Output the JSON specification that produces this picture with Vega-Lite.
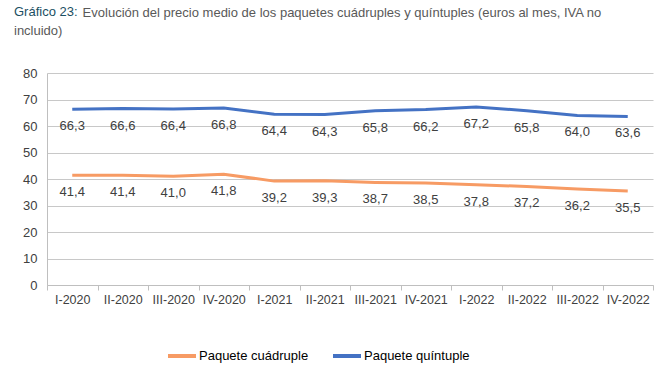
{
  "$schema": "https://vega.github.io/schema/vega-lite/v6.json",
  "width": 606,
  "height": 212,
  "autosize": {"type": "none"},
  "padding": {"left": 47, "top": 73, "right": 12, "bottom": 99},
  "background": "white",
  "title": {
    "text": "Gráfico 23:",
    "subtitle": ["\u200b\u00a0\u00a0\u00a0\u00a0\u00a0\u00a0\u00a0\u00a0\u00a0\u00a0\u00a0\u00a0\u00a0\u00a0\u00a0\u00a0\u00a0\u00a0\u00a0Evolución del precio medio de los paquetes cuádruples y quíntuples (euros al mes, IVA no", "incluido)"],
    "anchor": "start",
    "frame": "group",
    "dx": -33,
    "offset": 29,
    "font": "Liberation Sans",
    "fontSize": 13,
    "fontWeight": "normal",
    "color": "#1B4F63",
    "lineHeight": 18,
    "subtitleFont": "Liberation Sans",
    "subtitleFontSize": 13,
    "subtitleColor": "#595959",
    "subtitleLineHeight": 18,
    "subtitlePadding": -12
  },
  "config": {
    "locale": {"number": {"decimal": ",", "thousands": ".", "grouping": [3], "currency": ["", " €"]}},
    "view": {"stroke": null},
    "font": "Liberation Sans"
  },
  "data": {
    "values": [
      {"q": "I-2020", "serie": "Paquete cuádruple", "v": 41.4},
      {"q": "II-2020", "serie": "Paquete cuádruple", "v": 41.4},
      {"q": "III-2020", "serie": "Paquete cuádruple", "v": 41.0},
      {"q": "IV-2020", "serie": "Paquete cuádruple", "v": 41.8},
      {"q": "I-2021", "serie": "Paquete cuádruple", "v": 39.2},
      {"q": "II-2021", "serie": "Paquete cuádruple", "v": 39.3},
      {"q": "III-2021", "serie": "Paquete cuádruple", "v": 38.7},
      {"q": "IV-2021", "serie": "Paquete cuádruple", "v": 38.5},
      {"q": "I-2022", "serie": "Paquete cuádruple", "v": 37.8},
      {"q": "II-2022", "serie": "Paquete cuádruple", "v": 37.2},
      {"q": "III-2022", "serie": "Paquete cuádruple", "v": 36.2},
      {"q": "IV-2022", "serie": "Paquete cuádruple", "v": 35.5},
      {"q": "I-2020", "serie": "Paquete quíntuple", "v": 66.3},
      {"q": "II-2020", "serie": "Paquete quíntuple", "v": 66.6},
      {"q": "III-2020", "serie": "Paquete quíntuple", "v": 66.4},
      {"q": "IV-2020", "serie": "Paquete quíntuple", "v": 66.8},
      {"q": "I-2021", "serie": "Paquete quíntuple", "v": 64.4},
      {"q": "II-2021", "serie": "Paquete quíntuple", "v": 64.3},
      {"q": "III-2021", "serie": "Paquete quíntuple", "v": 65.8},
      {"q": "IV-2021", "serie": "Paquete quíntuple", "v": 66.2},
      {"q": "I-2022", "serie": "Paquete quíntuple", "v": 67.2},
      {"q": "II-2022", "serie": "Paquete quíntuple", "v": 65.8},
      {"q": "III-2022", "serie": "Paquete quíntuple", "v": 64.0},
      {"q": "IV-2022", "serie": "Paquete quíntuple", "v": 63.6}
    ]
  },
  "encoding": {
    "x": {
      "field": "q", "type": "ordinal", "sort": null,
      "scale": {"type": "band", "paddingInner": 0, "paddingOuter": 0},
      "axis": {
        "title": null, "labelAngle": 0, "tickBand": "extent",
        "labelFont": "Liberation Sans", "labelFontSize": 12.5, "labelColor": "#404040",
        "domainColor": "#BFBFBF", "tickColor": "#BFBFBF", "tickSize": 5, "labelPadding": 3,
        "grid": false
      }
    },
    "y": {
      "field": "v", "type": "quantitative",
      "scale": {"domain": [0, 80]},
      "axis": {
        "title": null, "values": [0, 10, 20, 30, 40, 50, 60, 70, 80],
        "labelFont": "Liberation Sans", "labelFontSize": 13, "labelColor": "#404040",
        "domainColor": "#BFBFBF", "gridColor": "#C8C8C8", "ticks": false, "labelPadding": 10
      }
    },
    "color": {
      "field": "serie", "type": "nominal",
      "scale": {"domain": ["Paquete cuádruple", "Paquete quíntuple"], "range": ["#F79B64", "#4472C4"]},
      "legend": {
        "title": null, "orient": "none", "direction": "horizontal",
        "legendX": 119, "legendY": 267,
        "symbolType": "stroke", "symbolSize": 784, "symbolStrokeWidth": 4,
        "labelFont": "Liberation Sans", "labelFontSize": 13, "labelColor": "#000000",
        "labelOffset": 1, "columnPadding": 16
      }
    }
  },
  "layer": [
    {"mark": {"type": "line", "strokeWidth": 3}},
    {
      "mark": {"type": "text", "dy": 17, "baseline": "middle", "fontSize": 13, "color": "#404040", "font": "Liberation Sans"},
      "encoding": {
        "text": {"field": "v", "type": "quantitative", "format": ".1f"},
        "color": {"value": "#404040"}
      }
    }
  ]
}
